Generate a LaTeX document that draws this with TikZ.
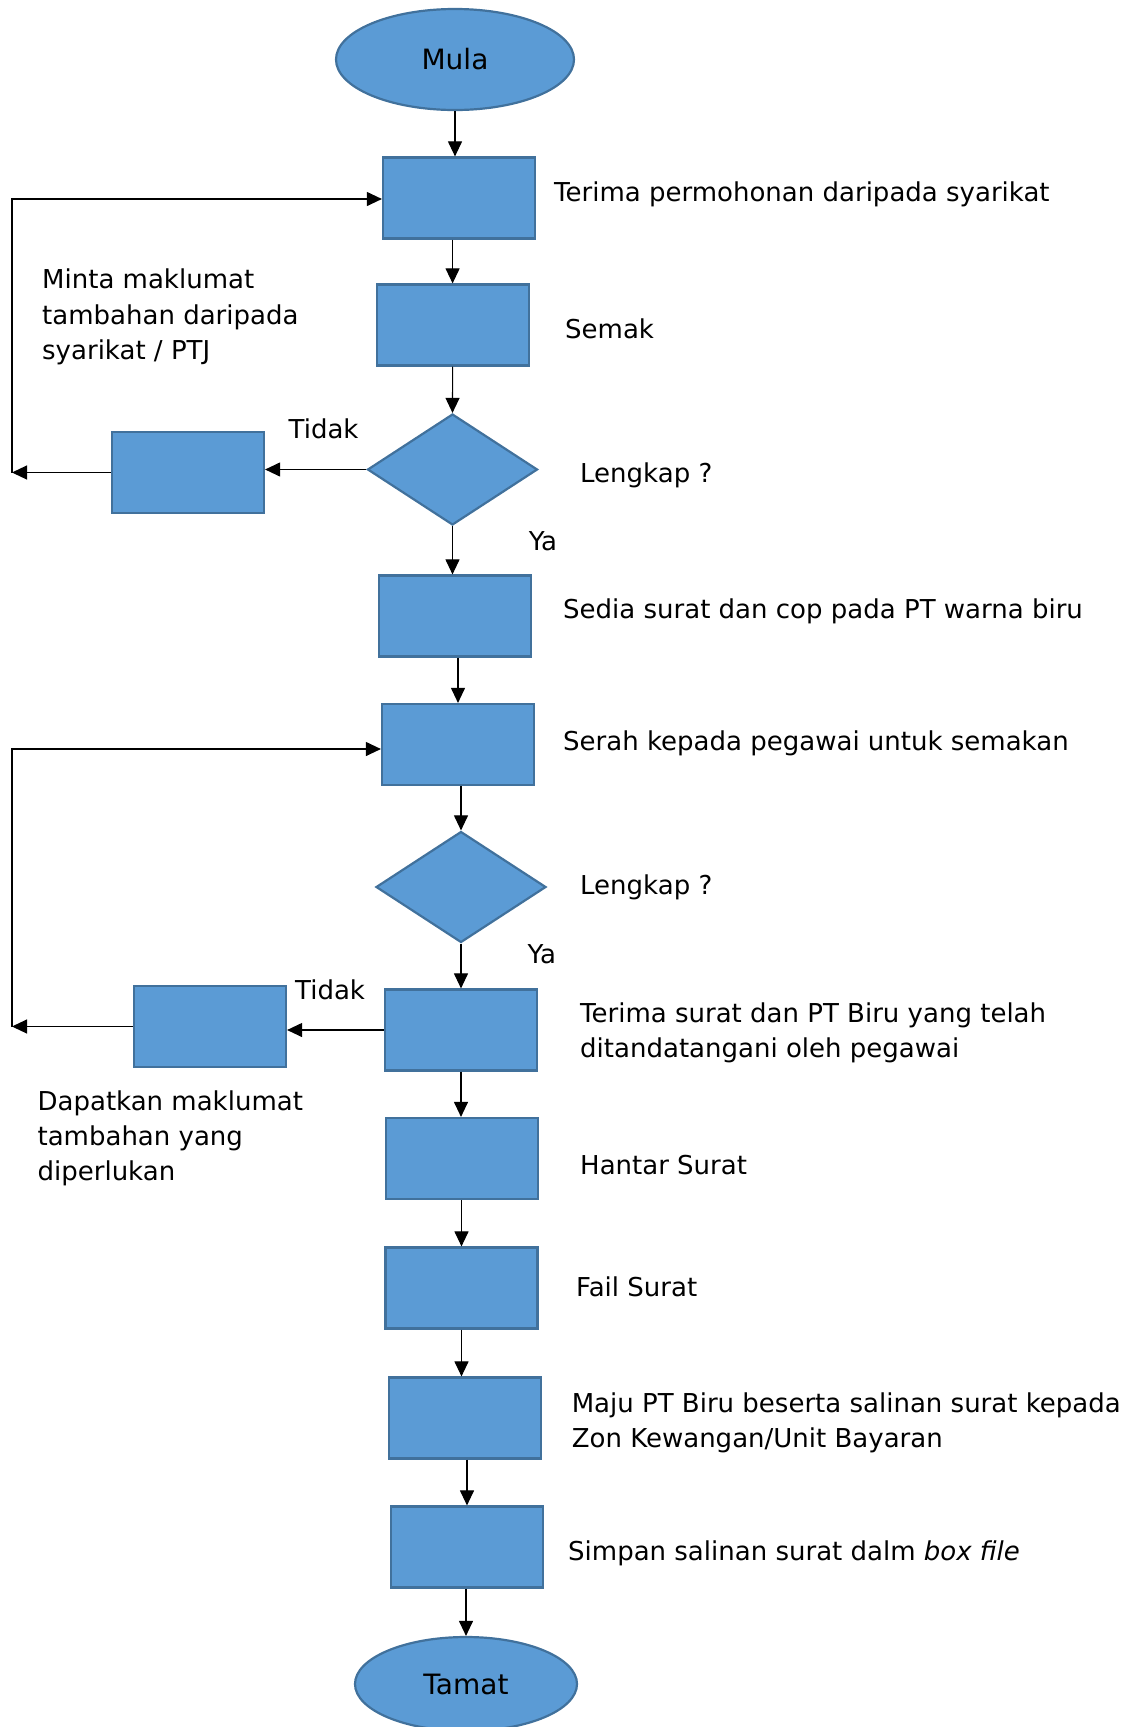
\documentclass[tikz,border=0pt]{standalone}
\usepackage{fontspec}
\setmainfont{DejaVu Sans}
\usetikzlibrary{shapes.geometric,arrows.meta}
\definecolor{boxfill}{HTML}{5B9BD5}
\definecolor{boxline}{HTML}{41719C}

\begin{document}
\begin{tikzpicture}[x=1pt,y=-1pt,
  box/.style={draw=boxline, fill=boxfill, line width=2.2pt, rectangle, minimum width=152pt, minimum height=81pt},
  dec/.style={draw=boxline, fill=boxfill, line width=2.2pt, diamond, minimum width=170pt, minimum height=111pt, inner sep=0pt},
  term/.style={draw=boxline, fill=boxfill, line width=2.2pt, ellipse, minimum width=238pt, minimum height=101pt, font=\fontsize{28}{34}\selectfont},
  lbl/.style={anchor=west, align=left, inner sep=0pt, yshift=-3pt},
  flow/.style={-{Triangle[length=15pt,width=14pt]}, line width=1.1pt},
  every node/.style={font=\fontsize{26}{35.3}\selectfont}]
\useasboundingbox (0,0) rectangle (1131,1727);
% main column
\node[term] (mula) at (455, 59.5) {Mula};
\node[box] (terima) at (459, 198) {};
\node[box] (semak) at (452.6, 325) {};
\node[dec] (lengkapA) at (452.5, 469.5) {};
\node[box] (minta) at (188, 472.5) {};
\node[box] (sedia) at (455, 616) {};
\node[box] (serah) at (458, 744.5) {};
\node[dec] (lengkapB) at (461, 887) {};
\node[box] (terimaSurat) at (461, 1030) {};
\node[box] (dapat) at (210, 1026.5) {};
\node[box] (hantar) at (462, 1158.5) {};
\node[box] (fail) at (461.5, 1288) {};
\node[box] (maju) at (465, 1418) {};
\node[box] (simpan) at (467, 1547) {};
\node[term, minimum width=222pt, minimum height=94pt] (tamat) at (466, 1684) {Tamat};
\coordinate (loopA) at (12, 472.5);
\coordinate (loopB) at (12, 1026.5);

% labels
\node[lbl] (tTerima) at (554, 191.6) {Terima permohonan daripada syarikat};
\node[lbl] (tSemak) at (565, 326) {Semak};
\node[lbl] (tLengkapA) at (580, 472.5) {Lengkap ?};
\node[lbl] (tTidakA) at (288.5, 426) {Tidak};
\node[lbl] (tYaA) at (528.6, 538.5) {Ya};
\node[lbl] (tMinta) at (42, 314) {Minta maklumat\\tambahan daripada\\syarikat / PTJ};
\node[lbl] (tSedia) at (563, 608) {Sedia surat dan cop pada PT warna biru};
\node[lbl] (tSerah) at (563, 740) {Serah kepada pegawai untuk semakan};
\node[lbl] (tLengkapB) at (580, 884) {Lengkap ?};
\node[lbl] (tYaB) at (527.5, 951.5) {Ya};
\node[lbl] (tTidakB) at (295, 987) {Tidak};
\node[lbl] (tTerimaSurat) at (580, 1030) {Terima surat dan PT Biru yang telah\\ditandatangani oleh pegawai};
\node[lbl] (tDapat) at (37.4, 1135.5) {Dapatkan maklumat\\tambahan yang\\diperlukan};
\node[lbl] (tHantar) at (580, 1162) {Hantar Surat};
\node[lbl] (tFail) at (576, 1284) {Fail Surat};
\node[lbl] (tMaju) at (571.6, 1420) {Maju PT Biru beserta salinan surat kepada\\Zon Kewangan/Unit Bayaran};
\node[lbl] (tSimpan) at (568, 1550.6) {Simpan salinan surat dalm \textit{box file}};

% connectors
\draw[flow] (mula.south) -- (mula.south |- terima.north);
\draw[flow] (semak.north |- terima.south) -- (semak.north);
\draw[flow] (semak.south) -- (lengkapA.north);
\draw[flow] (lengkapA.west) -- (lengkapA.west -| minta.east);
\draw[flow] (minta.west) -- (loopA);
\draw[flow] (loopA) |- ([yshift=-1pt]terima.west);
\draw[flow] (lengkapA.south) -- (lengkapA.south |- sedia.north);
\draw[flow] (serah.north |- sedia.south) -- (serah.north);
\draw[flow] (lengkapB.north |- serah.south) -- (lengkapB.north);
\draw[flow] (lengkapB.south) -- (terimaSurat.north);
\draw[flow] (terimaSurat.west) -- (terimaSurat.west -| dapat.east);
\draw[flow] (dapat.west) -- (loopB);
\draw[flow] (loopB) |- ([yshift=-4.5pt]serah.west);
\draw[flow] (terimaSurat.south) -- (terimaSurat.south |- hantar.north);
\draw[flow] (fail.north |- hantar.south) -- (fail.north);
\draw[flow] (fail.south) -- (fail.south |- maju.north);
\draw[flow] (simpan.north |- maju.south) -- (simpan.north);
\draw[flow] (tamat.north |- simpan.south) -- (tamat.north);
\end{tikzpicture}
\end{document}
